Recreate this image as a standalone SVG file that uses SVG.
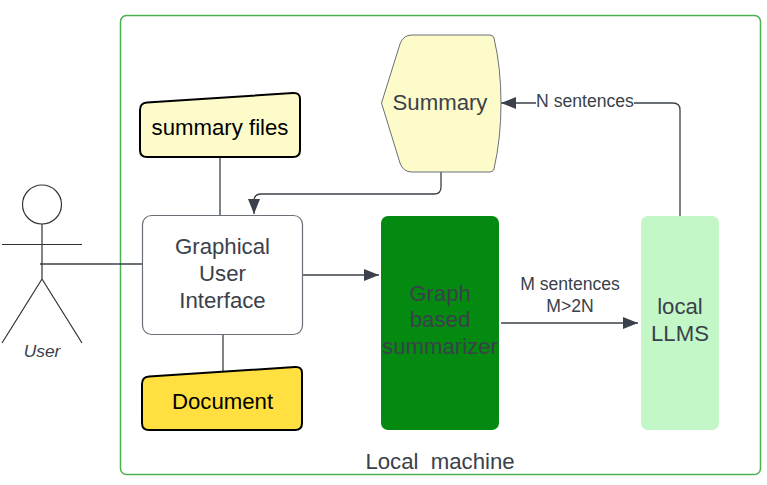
<svg xmlns="http://www.w3.org/2000/svg" width="767" height="485" viewBox="0 0 767 485">
<style>
text{font-family:"Liberation Sans",Arial,sans-serif;text-anchor:middle;fill:#3a414a}
.l{font-size:22.2px}
.s{font-size:17.6px}
.b{fill:#000}
.c{fill:none;stroke:#3a414a;stroke-width:1.3}
.a{stroke:#333;stroke-width:1.2;fill:none}
</style>
<defs><marker id="arr" markerUnits="userSpaceOnUse" markerWidth="16" markerHeight="14" refX="15" refY="6" orient="auto"><path d="M0 0L15 6L0 12Z" fill="#3a414a"/></marker></defs>
<rect width="767" height="485" fill="#fff"/>
<g id="machine"><rect x="120.500" y="15.500" width="640" height="459" rx="6" fill="#fff" stroke="#4caf50" stroke-width="1.500"/><text class="l" x="440" y="469" style="white-space:pre" xml:space="preserve">Local  machine</text></g>
<g id="connectors">
<path class="c" d="M220 157V215"/>
<path class="c" d="M223 335V371"/>
<path class="c" d="M40 264H143"/>
<path class="c" marker-end="url(#arr)" d="M441 172V187Q441 194 434 194H261Q254 194 254 201V214"/>
<path class="c" marker-end="url(#arr)" d="M303 275H379"/>
<path class="c" marker-end="url(#arr)" d="M501 323H638"/>
<path class="c" marker-end="url(#arr)" d="M680 216V110Q680 103 673 103H634M536 103H501"/>
</g>
<g id="user">
<circle class="a" cx="42" cy="204.500" r="19.500"/>
<path class="a" d="M42 224V279M2 244.500H82M42 279L2 343M42 279L82 343"/>
<text x="42" y="357" style="font-size:17.4px;font-style:italic">User</text>
</g>
<g id="summary-files"><path d="M140 110Q140 103 147 102.500L293 93Q300 92.500 300 99V150Q300 157 293 157H147Q140 157 140 150Z" fill="#fdfbc9" stroke="#000" stroke-width="2"/><text class="l b" x="220" y="135">summary files</text></g>
<g id="gui"><rect x="142.500" y="215.500" width="160" height="119" rx="9" fill="#fff" stroke="#6b7078" stroke-width="1.200"/><text class="l" x="222.500" y="254">Graphical</text><text class="l" x="222.500" y="281">User</text><text class="l" x="222.500" y="308">Interface</text></g>
<g id="document"><path d="M142 384Q142 377 149 376.500L295 367Q302 366.500 302 373V423Q302 430 295 430H149Q142 430 142 423Z" fill="#ffe040" stroke="#000" stroke-width="2"/><text class="l b" x="222.500" y="409">Document</text></g>
<g id="summary"><path d="M381.500 103L400 44Q403 35 412 35H490Q493 35 494 38Q501 68 501 103Q501 138 494 169Q493 172 490 172H412Q403 172 400 163Z" fill="#fdfbc9" stroke="#6b7078" stroke-width="1"/><text class="l" x="440" y="110">Summary</text></g>
<g id="summarizer"><rect x="381" y="216" width="118" height="214" rx="7" fill="#048a10"/><text class="l" x="440" y="301">Graph</text><text class="l" x="440" y="327">based</text><text class="l" x="440" y="354">summarizer</text></g>
<g id="llms"><rect x="641" y="216" width="78" height="214" rx="7" fill="#c3f7c8"/><text class="l" x="680" y="314">local</text><text class="l" x="680" y="341">LLMS</text></g>
<g id="labels"><text class="s" x="585" y="107">N sentences</text><text class="s" x="570" y="290">M sentences</text><text class="s" x="570" y="312">M&gt;2N</text></g>
</svg>
